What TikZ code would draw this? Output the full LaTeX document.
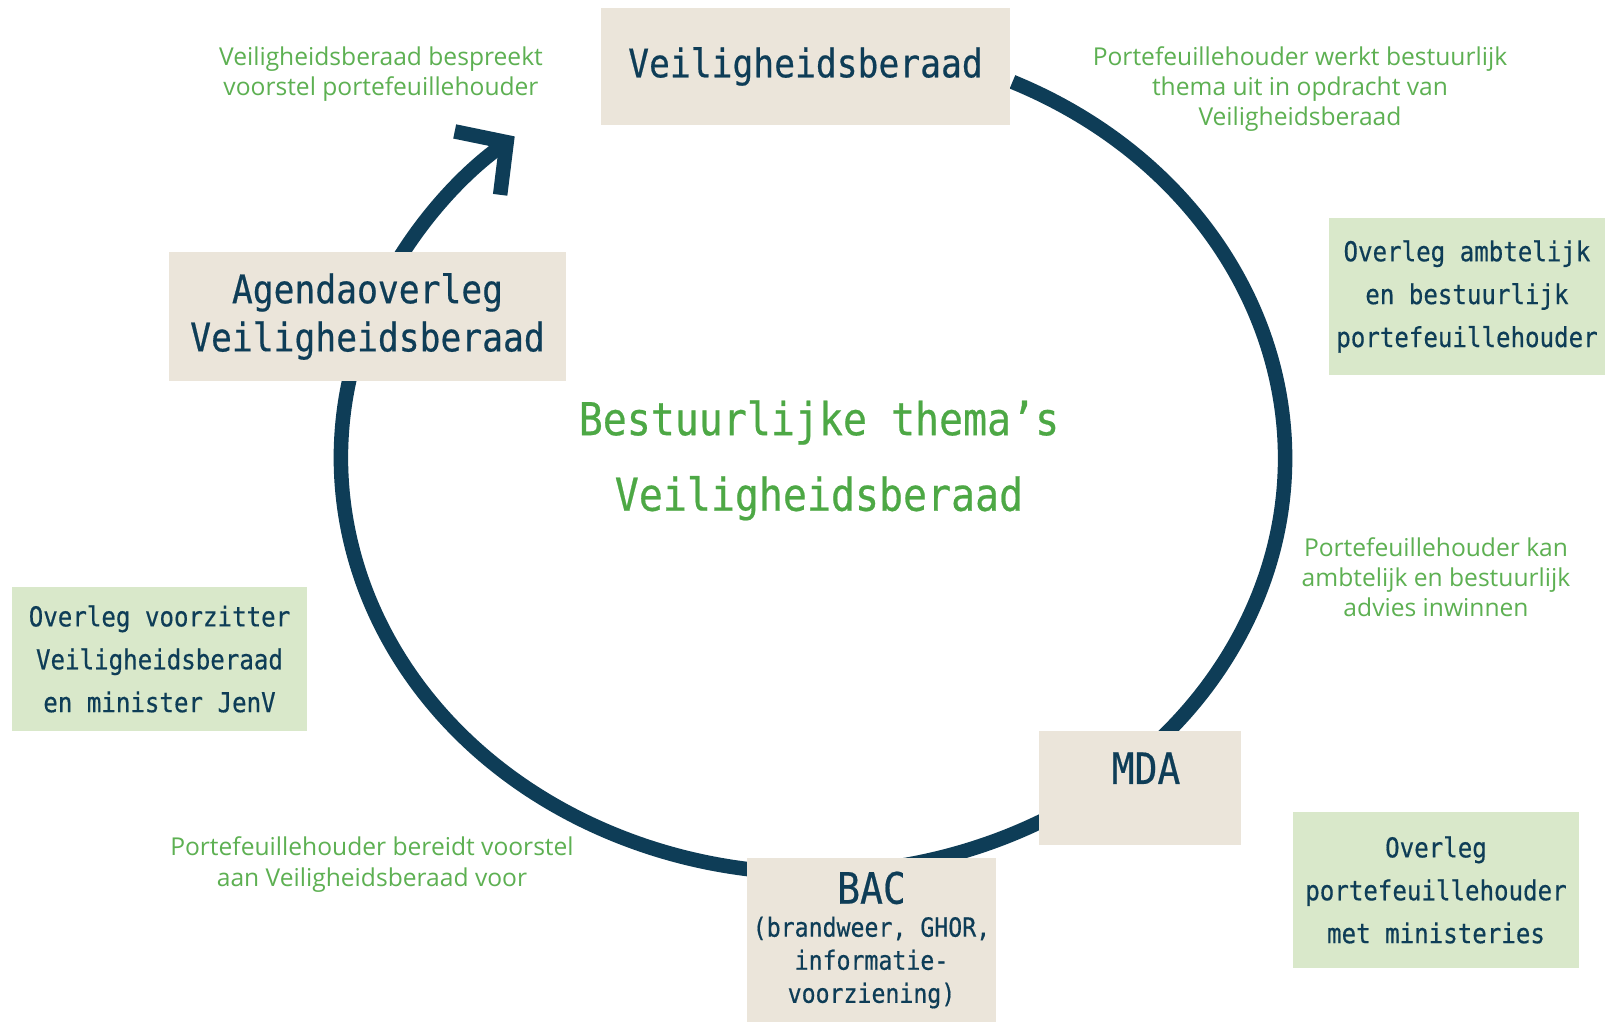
\documentclass[tikz,border=0pt]{standalone}
\usepackage{fontspec}
\setmainfont{Open Sans}
\newfontfamily\monofont{DejaVu Sans Mono}[FakeStretch=0.88, FakeBold=0.5]
\usetikzlibrary{positioning, arrows.meta}
\definecolor{navy}{HTML}{0E3D57}
\definecolor{sand}{HTML}{EBE5DA}
\definecolor{sage}{HTML}{D9E8CA}
\definecolor{leaf}{HTML}{5DB052}
\definecolor{themegreen}{HTML}{4DA845}
\tikzset{
  >={Straight Barb[length=3.6mm, width=7.8mm]},
  ring/.style={draw=navy, line width=1.45mm},
  phase/.style={fill=sand, inner sep=0pt, align=center, text=navy, font=\monofont\fontsize{11.2}{13.7}\selectfont},
  forum/.style={fill=sage, inner sep=0pt, align=center, text=navy, font=\monofont\fontsize{7.8}{12.2}\selectfont},
  note/.style={text=leaf, align=center, font=\fontsize{7}{8.6}\selectfont},
}

\begin{document}
\begin{tikzpicture}[x=0.1mm, y=-0.1mm]
  \path[use as bounding box, fill=white] (0,0) rectangle (1605,1022);

  \coordinate (hub) at (813,458);
  \draw[ring, ->] ([shift={(65:47.2mm and 41.5mm)}]hub) arc[start angle=65, end angle=-230.8, x radius=47.2mm, y radius=41.5mm];

  \node[phase, minimum width=40.9mm, minimum height=11.7mm] (vb) at (805.5,66.5) {Veiligheidsberaad};
  \node[phase, minimum width=39.7mm, minimum height=12.9mm] (agenda) at (367.5,316.5) {Agendaoverleg\\Veiligheidsberaad};
  \node[phase, minimum width=20.2mm, minimum height=11.4mm, text height=3mm, text depth=3.8mm, font=\monofont\fontsize{12.3}{14}\selectfont] (mda) at (1140,788) {\hspace*{1.2mm}MDA};
  \node[phase, minimum width=24.9mm, minimum height=16.4mm, font=\monofont\fontsize{7.5}{9.4}\selectfont] (bac) at (871.5,940) {{\fontsize{12.3}{14}\selectfont BAC}\\(brandweer, GHOR,\\informatie-\\voorziening)};

  \node[forum, minimum width=27.6mm, minimum height=15.7mm] (ambt) at (1467,296.5) {Overleg ambtelijk\\en bestuurlijk\\portefeuillehouder};
  \node[forum, minimum width=29.5mm, minimum height=14.4mm] (voorz) at (159.5,659) {Overleg voorzitter\\Veiligheidsberaad\\en minister JenV};
  \node[forum, minimum width=28.6mm, minimum height=15.6mm] (minist) at (1436,890) {Overleg\\portefeuillehouder\\met ministeries};

  \node[text=themegreen, align=center, font=\monofont\fontsize{12.9}{21.5}\selectfont] (thema) at (819,460.5) {Bestuurlijke thema’s\\Veiligheidsberaad};

  \node[note] (bespreekt) at (381,74) {Veiligheidsberaad bespreekt\\voorstel portefeuillehouder};
  \node[note] (werkt) at (1300,89) {Portefeuillehouder werkt bestuurlijk\\thema uit in opdracht van\\Veiligheidsberaad};
  \node[note] (advies) at (1436,577) {Portefeuillehouder kan\\ambtelijk en bestuurlijk\\advies inwinnen};
  \node[note] (bereidt) at (372,864.5) {Portefeuillehouder bereidt voorstel\\aan Veiligheidsberaad voor};
\end{tikzpicture}
\end{document}
